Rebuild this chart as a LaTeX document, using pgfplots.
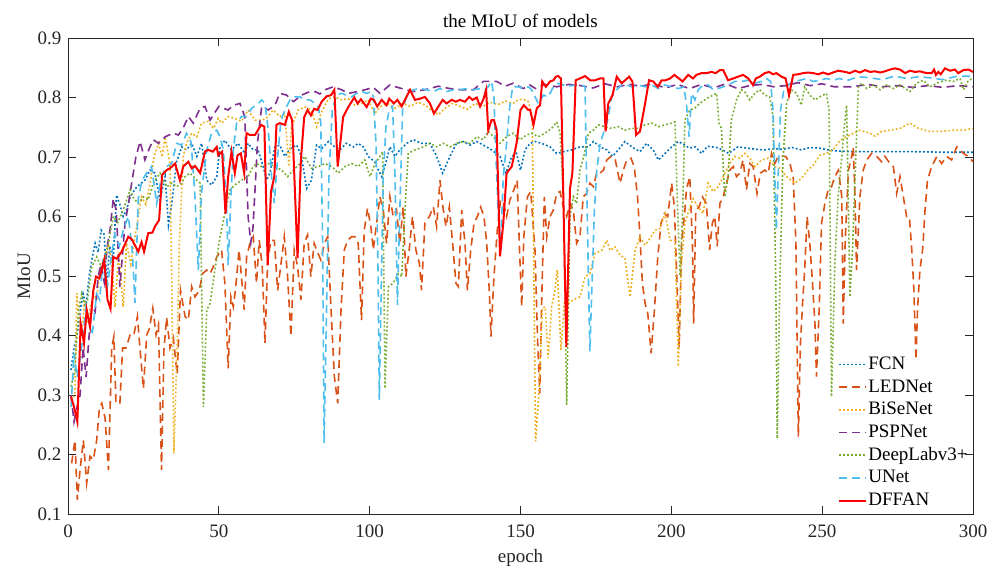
\documentclass[border=0pt]{standalone}
\usepackage{pgfplots}
\pgfplotsset{compat=1.18}
\usepackage{fontspec}
\setmainfont{Liberation Serif}
\definecolor{cFCN}{rgb}{0,0.447,0.741}
\definecolor{cLED}{rgb}{0.850,0.325,0.098}
\definecolor{cBiSe}{rgb}{0.929,0.694,0.125}
\definecolor{cPSP}{rgb}{0.494,0.184,0.556}
\definecolor{cDL}{rgb}{0.466,0.674,0.188}
\definecolor{cUNet}{rgb}{0.301,0.745,0.933}
\definecolor{axgray}{rgb}{0.15,0.15,0.15}
\begin{document}
\fontsize{19}{23}\selectfont
\begin{tikzpicture}
\path[use as bounding box] (-68pt,-56pt) rectangle (930pt,514pt);
\begin{axis}[
  at={(0pt,0pt)}, anchor=south west,
  scale only axis, width=905pt, height=476pt,
  xmin=0, xmax=300, ymin=0.1, ymax=0.9,
  xtick={0,50,100,150,200,250,300},
  ytick={0.1,0.2,0.3,0.4,0.5,0.6,0.7,0.8,0.9},
  yticklabel style={/pgf/number format/fixed,/pgf/number format/precision=1,/pgf/number format/fixed zerofill},
  xticklabel style={yshift=-4pt},
  /pgf/number format/assume math mode=true,
  tick align=inside, major tick length=8pt,
  axis line style={draw=axgray, line width=0.7pt},
  every tick/.style={axgray, line width=0.7pt},
  ticklabel style={text=axgray},
  title={the MIoU of models},
  title style={at={(axis description cs:0.5,1.023)}, anchor=center},
  xlabel={epoch},
  xlabel style={at={(axis description cs:0.5,-0.0925)}, anchor=center, text=axgray},
  ylabel={MIoU},
  ylabel style={at={(axis description cs:-0.0486,0.5)}, anchor=center, text=axgray},
  legend image code/.code={\draw[#1] (0pt,0pt) -- (27pt,0pt);},
  legend style={at={(rel axis cs:0.851,0.3355)}, anchor=north west, draw=none, fill=none,
    inner sep=0pt, row sep=2.67pt, cells={anchor=west},
    nodes={inner sep=1pt, text height=14pt, text depth=4pt}},
  legend cell align=left,
]
\addplot[cFCN, line width=1.6pt, dash pattern=on 1.8pt off 2.2pt] coordinates {
(1,0.342)(2,0.38)(3,0.40)(4,0.44)(5,0.47)(6,0.45)(7,0.50)(8,0.53)(9,0.555)(10,0.54)(11,0.577)(12,0.57)(12.8,0.488)(13.8,0.55)(15,0.53)(16.1,0.636)(17.2,0.62)(18.3,0.60)(19.4,0.611)(20.6,0.633)(22.8,0.65)(25.5,0.661)(27.2,0.678)(28.8,0.673)(30.5,0.628)(32.2,0.667)(33.3,0.586)(34.4,0.622)(36,0.692)(37.7,0.717)(39.3,0.712)(41,0.723)(42.7,0.701)(44.3,0.723)(46,0.661)(47.6,0.653)(49.3,0.667)(50.4,0.717)(52,0.728)(54.2,0.712)(56.4,0.723)(58.6,0.706)(59.7,0.723)(61.4,0.712)(63,0.712)(64.7,0.684)(65.8,0.661)(66.9,0.673)(68.6,0.717)(70.2,0.72)(71.9,0.701)(73.6,0.714)(75.8,0.72)(77.4,0.701)(79.1,0.647)(80.7,0.661)(82.4,0.72)(84.1,0.714)(86.3,0.726)(88.5,0.717)(90.1,0.712)(92.3,0.723)(94.6,0.717)(96.2,0.723)(97.9,0.717)(99.5,0.701)(101.7,0.692)(102.3,0.684)(104,0.667)(105.6,0.695)(106.7,0.717)(108.4,0.701)(110,0.712)(112.3,0.723)(114.5,0.729)(117.2,0.723)(120,0.723)(122.2,0.701)(124.2,0.673)(126.6,0.701)(128.8,0.723)(131,0.726)(133.2,0.72)(135.5,0.726)(137.7,0.72)(140.4,0.712)(143.2,0.701)(145.2,0.673)(147.1,0.701)(148.7,0.706)(150,0.678)(151.5,0.712)(153.2,0.723)(154.8,0.726)(157,0.723)(159.8,0.717)(162,0.706)(164.2,0.709)(167,0.712)(169.7,0.717)(172.5,0.717)(174.2,0.726)(176.4,0.717)(178.6,0.712)(180.5,0.701)(182.4,0.712)(184.6,0.726)(186.9,0.717)(189.6,0.709)(191.8,0.723)(194,0.712)(195.7,0.695)(197.9,0.706)(200.1,0.717)(202.3,0.726)(204.5,0.72)(206,0.715)(208,0.717)(210,0.706)(212,0.718)(215,0.716)(217,0.712)(219,0.706)(222,0.717)(225,0.715)(228,0.713)(231,0.712)(234,0.714)(237,0.713)(240,0.716)(243,0.712)(246,0.716)(249,0.715)(252,0.712)(255,0.71)(260,0.709)(270,0.709)(280,0.709)(290,0.708)(300,0.708)
};
\addlegendentry{FCN}
\addplot[cLED, line width=1.6pt, dash pattern=on 8pt off 5pt] coordinates {
(1.2,0.185)(2.3,0.224)(3.1,0.124)(4,0.174)(5.1,0.224)(6.2,0.152)(7.3,0.197)(8.4,0.191)(9.5,0.224)(10.4,0.278)(11.2,0.286)(12.3,0.261)(13.4,0.174)(14.5,0.379)(15.2,0.398)(15.9,0.286)(17.2,0.286)(18.1,0.379)(19.2,0.379)(20.6,0.401)(21.8,0.40)(23,0.432)(23.9,0.376)(25,0.311)(26.1,0.401)(27,0.412)(28.1,0.446)(29.2,0.401)(30,0.418)(31,0.174)(31.8,0.376)(32.7,0.43)(33.8,0.379)(34.9,0.396)(36.2,0.335)(37.3,0.476)(38.8,0.432)(39.9,0.426)(41,0.482)(42.1,0.465)(43.5,0.476)(44.6,0.504)(46,0.51)(47.1,0.504)(48.2,0.516)(49.3,0.532)(50.9,0.544)(52,0.488)(53.1,0.345)(54,0.465)(54.8,0.448)(55.5,0.476)(56.7,0.544)(57.5,0.499)(58.4,0.443)(59.2,0.532)(60.3,0.555)(61.4,0.566)(62.5,0.488)(63.4,0.56)(64.4,0.516)(65.3,0.387)(66.2,0.527)(67.3,0.56)(68.4,0.56)(69.5,0.476)(70.2,0.504)(71.7,0.566)(72.8,0.499)(73.9,0.399)(75,0.544)(76.1,0.516)(77.2,0.46)(78.3,0.555)(79.4,0.569)(80.5,0.499)(81.6,0.555)(82.4,0.544)(83.8,0.527)(85,0.555)(86.1,0.566)(87.2,0.443)(88.3,0.331)(89.4,0.286)(90.5,0.443)(91.6,0.544)(92.7,0.56)(94,0.566)(95.1,0.566)(96.2,0.555)(97.3,0.426)(98.2,0.577)(99.3,0.614)(100.4,0.583)(101.2,0.544)(102.3,0.589)(103.4,0.633)(104.5,0.611)(105.6,0.555)(106.7,0.633)(107.8,0.6)(108.9,0.611)(110,0.555)(111.1,0.616)(112,0.499)(113.1,0.544)(114.2,0.6)(115.3,0.544)(116.5,0.521)(117.2,0.476)(118.3,0.589)(119.8,0.6)(121.1,0.616)(122.2,0.583)(123.3,0.661)(124.4,0.611)(125.3,0.583)(126.4,0.616)(127.5,0.555)(128.6,0.488)(129.4,0.482)(130.5,0.611)(131.6,0.555)(132.4,0.476)(133.5,0.544)(134.6,0.589)(135.7,0.6)(136.8,0.616)(137.9,0.6)(138.8,0.555)(139.7,0.471)(140.2,0.398)(141.2,0.499)(142.3,0.577)(143.4,0.628)(144.3,0.622)(145.4,0.6)(146.5,0.628)(147.8,0.645)(148.9,0.661)(149.6,0.555)(150.4,0.448)(151.1,0.566)(152.3,0.633)(153.4,0.642)(154.8,0.544)(155.7,0.387)(156.4,0.303)(157,0.454)(157.9,0.633)(158.7,0.566)(159.8,0.6)(160.9,0.611)(162,0.639)(163.1,0.642)(164.2,0.616)(165.3,0.6)(166.4,0.622)(167.5,0.611)(168.6,0.555)(169.7,0.566)(170.8,0.633)(171.9,0.639)(173,0.656)(174.2,0.65)(175.3,0.675)(176.4,0.673)(177.5,0.678)(178.6,0.695)(180,0.701)(181.3,0.698)(183,0.656)(184.1,0.678)(185.2,0.695)(186.6,0.698)(187.7,0.684)(188.8,0.633)(189.6,0.566)(190.4,0.488)(191.3,0.454)(192.2,0.437)(193.3,0.37)(194.4,0.443)(195.5,0.532)(196.6,0.589)(197.7,0.605)(198.8,0.6)(200.1,0.656)(201,0.616)(201.8,0.499)(202.6,0.38)(203.4,0.555)(204.5,0.611)(205,0.645)(206.1,0.667)(207,0.555)(207.4,0.42)(208.1,0.611)(209.2,0.616)(210.3,0.633)(211.6,0.622)(212.7,0.544)(213.6,0.589)(214.4,0.6)(215.2,0.55)(216.1,0.622)(217.2,0.633)(218.3,0.656)(219.4,0.678)(220.5,0.684)(221.6,0.667)(222.7,0.673)(223.8,0.695)(224.9,0.645)(226,0.689)(227.1,0.684)(228.4,0.639)(229.5,0.673)(231,0.678)(232.1,0.673)(233.2,0.706)(234.3,0.689)(235.4,0.701)(236.5,0.701)(237.9,0.701)(239.3,0.689)(240.4,0.667)(241.3,0.555)(241.7,0.387)(242.1,0.23)(242.8,0.387)(243.5,0.454)(244.2,0.51)(245,0.6)(245.9,0.555)(246.8,0.488)(247.6,0.42)(248.1,0.331)(249,0.443)(249.8,0.589)(250.9,0.622)(252,0.645)(253.1,0.65)(254.2,0.667)(255.4,0.678)(256.5,0.633)(257,0.42)(257.6,0.555)(258.7,0.678)(259.8,0.701)(260.3,0.717)(260.9,0.633)(261.4,0.51)(262.5,0.633)(263.6,0.678)(264.8,0.695)(266.4,0.706)(268.1,0.701)(269.7,0.692)(270.8,0.701)(272.5,0.689)(273.6,0.684)(274.7,0.639)(275.8,0.667)(276.9,0.633)(278,0.6)(278.9,0.6)(279.7,0.544)(280.4,0.476)(281.1,0.359)(281.6,0.443)(282.4,0.51)(283.3,0.544)(284.1,0.611)(284.9,0.661)(286.3,0.684)(288,0.701)(289.6,0.689)(291.3,0.701)(292.9,0.695)(294.6,0.717)(295.7,0.712)(296.8,0.706)(298.5,0.701)(300,0.692)
};
\addlegendentry{LEDNet}
\addplot[cBiSe, line width=1.6pt, dash pattern=on 1.8pt off 2.2pt] coordinates {
(1,0.283)(2.3,0.305)(2.9,0.471)(3.4,0.443)(4.5,0.40)(5.5,0.46)(6.5,0.42)(7.5,0.45)(8.5,0.47)(9.5,0.46)(10.5,0.51)(12,0.53)(13.4,0.555)(14.5,0.52)(15.6,0.448)(16.8,0.54)(18.3,0.448)(19.4,0.555)(20.8,0.52)(22.2,0.566)(23.3,0.60)(24.4,0.633)(25.8,0.62)(27.2,0.656)(28.5,0.70)(30,0.723)(31.2,0.70)(32.2,0.734)(33.8,0.689)(34.5,0.45)(35.1,0.202)(36.2,0.387)(36.9,0.555)(38.2,0.701)(39.3,0.723)(41,0.74)(42.7,0.734)(44.3,0.757)(46.5,0.76)(48.2,0.748)(49.8,0.765)(50.9,0.757)(53.1,0.768)(55.3,0.765)(57.5,0.76)(59.7,0.779)(62,0.762)(64.2,0.762)(65.8,0.765)(68,0.779)(70.2,0.768)(71.9,0.773)(73.2,0.684)(74.1,0.751)(76.3,0.779)(78.5,0.784)(80.7,0.779)(82.4,0.751)(84.1,0.776)(86.3,0.798)(88.5,0.801)(90.7,0.796)(92.9,0.798)(95.1,0.787)(97.3,0.79)(99.5,0.796)(101.7,0.773)(103.5,0.785)(106,0.79)(108.5,0.782)(111,0.79)(113.5,0.785)(116,0.792)(118.5,0.787)(120.5,0.778)(122.8,0.771)(125,0.782)(127.5,0.79)(130,0.785)(132.5,0.78)(135,0.79)(137.5,0.785)(140,0.792)(142.5,0.788)(145,0.794)(147.5,0.79)(149.5,0.797)(151.5,0.796)(152.6,0.793)(153.9,0.768)(155,0.222)(156.1,0.303)(157.2,0.446)(158.2,0.448)(159.2,0.362)(160.3,0.448)(161.4,0.476)(162.2,0.51)(163.4,0.376)(164.5,0.454)(165.9,0.454)(167.5,0.46)(169.7,0.465)(171.4,0.499)(173,0.504)(174.7,0.538)(176.9,0.543)(178.6,0.56)(179.7,0.543)(181.3,0.549)(183,0.535)(184.6,0.53)(186.3,0.465)(188,0.543)(189.6,0.566)(191.3,0.552)(192.9,0.563)(194.6,0.577)(196.3,0.58)(197.9,0.605)(199.6,0.56)(201.2,0.56)(202.3,0.348)(203.4,0.524)(204.5,0.589)(205.5,0.605)(207.2,0.63)(208.9,0.616)(210.5,0.605)(212.2,0.656)(213.9,0.642)(215.5,0.65)(217.2,0.667)(219.4,0.689)(221,0.701)(222.7,0.698)(224.3,0.706)(226,0.698)(227.7,0.684)(229.9,0.695)(232.1,0.698)(234.3,0.684)(236,0.681)(238.2,0.667)(240.9,0.656)(243.1,0.664)(245.3,0.678)(247,0.686)(249.2,0.703)(251.4,0.706)(253.6,0.712)(255.9,0.728)(259.2,0.737)(262.5,0.745)(265.9,0.74)(267.5,0.735)(269.7,0.743)(272.5,0.745)(275.8,0.748)(279.1,0.757)(281.9,0.748)(285.7,0.743)(289.1,0.743)(293.5,0.745)(296.8,0.745)(300,0.748)
};
\addlegendentry{BiSeNet}
\addplot[cPSP, line width=1.6pt, dash pattern=on 8pt off 5pt] coordinates {
(1,0.30)(2,0.255)(3,0.28)(4,0.30)(5,0.38)(6,0.33)(7,0.40)(8,0.45)(9,0.44)(10,0.50)(11,0.52)(12,0.49)(13,0.55)(14,0.58)(15,0.63)(16,0.61)(17.2,0.482)(18.9,0.589)(20,0.62)(21.1,0.656)(22.5,0.70)(23.9,0.726)(25.5,0.695)(27,0.715)(28.3,0.729)(30,0.723)(32.2,0.734)(34.9,0.74)(36.6,0.737)(38.3,0.75)(39.9,0.768)(41.5,0.757)(43.8,0.782)(45.4,0.785)(47.1,0.762)(48.7,0.775)(50,0.785)(51.5,0.782)(53.1,0.779)(54.8,0.787)(57,0.79)(58.6,0.768)(59.7,0.6)(60.6,0.556)(61.3,0.58)(62,0.645)(62.8,0.723)(64.2,0.785)(66.4,0.779)(68.6,0.787)(70.2,0.807)(72.5,0.804)(74.7,0.793)(77.4,0.804)(80.2,0.81)(81.9,0.81)(83.5,0.806)(85.2,0.813)(87.9,0.818)(90.7,0.813)(92.9,0.807)(96.2,0.81)(98.4,0.813)(101.2,0.817)(103.4,0.807)(106.7,0.821)(110.6,0.815)(114.5,0.81)(118.3,0.813)(122.8,0.819)(126.6,0.815)(130.5,0.813)(134.4,0.813)(137.7,0.827)(142.1,0.827)(144.9,0.819)(147.6,0.824)(150.9,0.815)(153.1,0.821)(155,0.815)(158,0.822)(162,0.818)(166,0.822)(170,0.82)(174,0.816)(178,0.823)(182,0.818)(186,0.822)(190,0.819)(194,0.823)(198,0.816)(202,0.822)(206,0.815)(210,0.822)(214,0.816)(218,0.823)(222,0.815)(226,0.82)(230,0.822)(234,0.818)(238,0.82)(242,0.825)(246,0.82)(250,0.823)(254,0.818)(260,0.818)(265,0.822)(270,0.818)(275,0.82)(280,0.817)(285,0.82)(290,0.817)(295,0.82)(300,0.818)
};
\addlegendentry{PSPNet}
\addplot[cDL, line width=1.6pt, dash pattern=on 1.8pt off 2.2pt] coordinates {
(1,0.314)(2.3,0.342)(3.4,0.44)(4.5,0.47)(5.6,0.45)(6.5,0.46)(7.8,0.514)(9.5,0.532)(11.5,0.51)(13.4,0.555)(15,0.60)(16.5,0.59)(18.3,0.611)(20.6,0.645)(21.8,0.63)(23.3,0.622)(25,0.633)(26.6,0.628)(28.3,0.656)(30.5,0.673)(32.7,0.65)(34.4,0.656)(36,0.65)(37.7,0.656)(38.8,0.667)(40.4,0.673)(42.7,0.661)(43.8,0.656)(44.9,0.28)(46,0.443)(47.1,0.454)(48.7,0.51)(50.4,0.566)(52,0.605)(53.7,0.645)(55.3,0.653)(57.5,0.661)(59.7,0.667)(61.4,0.684)(62.5,0.689)(64.2,0.684)(66.4,0.689)(68.6,0.684)(70.8,0.678)(72.8,0.667)(74.7,0.678)(76.9,0.689)(78.5,0.701)(80.7,0.681)(83,0.684)(85.2,0.689)(87.4,0.684)(89.6,0.673)(91.8,0.684)(94,0.689)(96.2,0.684)(98.4,0.695)(100.1,0.667)(101.8,0.689)(103.4,0.701)(104.3,0.709)(105.1,0.311)(106.2,0.482)(107.8,0.488)(109.5,0.504)(110.6,0.499)(111.7,0.611)(112.8,0.706)(115,0.712)(117.8,0.717)(120,0.723)(122.2,0.717)(124.4,0.723)(126.6,0.717)(128.8,0.723)(131,0.726)(133.2,0.723)(135.5,0.734)(137.7,0.729)(139.3,0.743)(141,0.734)(143.2,0.723)(145.4,0.734)(147.6,0.74)(149.8,0.729)(152,0.737)(153.7,0.74)(155.9,0.734)(158.1,0.74)(160.3,0.748)(162,0.759)(163.1,0.74)(164.2,0.639)(165.3,0.283)(166.4,0.6)(167.5,0.633)(168.6,0.622)(169.7,0.678)(171.2,0.706)(172.5,0.74)(174.2,0.745)(175.8,0.754)(178,0.751)(180.2,0.748)(182.4,0.751)(184.6,0.745)(186.9,0.748)(189.1,0.748)(191.3,0.754)(193.5,0.757)(195.7,0.751)(197.9,0.754)(200.1,0.757)(201.2,0.759)(202.1,0.611)(202.9,0.5)(203.8,0.62)(204.5,0.762)(206.1,0.779)(207.8,0.782)(209.4,0.79)(211.6,0.798)(213.8,0.804)(215,0.807)(215.8,0.757)(216.6,0.748)(217.7,0.633)(218.8,0.667)(219.9,0.762)(221.6,0.796)(223.2,0.813)(224.3,0.81)(226,0.796)(227.7,0.807)(229.3,0.813)(231,0.804)(232.6,0.801)(233.7,0.768)(234.6,0.499)(235.1,0.227)(236,0.499)(237,0.695)(238.2,0.79)(239.8,0.813)(241.5,0.807)(243.1,0.787)(244.2,0.818)(245.9,0.804)(247.6,0.796)(249.2,0.801)(251.4,0.807)(252.3,0.779)(253.1,0.297)(254.2,0.521)(255.3,0.633)(256.5,0.70)(257.3,0.75)(258.1,0.787)(259.2,0.465)(260.1,0.55)(261.2,0.706)(262,0.818)(263.1,0.824)(264.8,0.815)(267,0.821)(269.2,0.813)(271.4,0.821)(273.6,0.815)(275.8,0.821)(279.1,0.81)(281.3,0.824)(283.5,0.829)(285.7,0.818)(288,0.824)(290.7,0.829)(293.5,0.827)(295.7,0.832)(296.8,0.813)(298.5,0.829)(300,0.832)
};
\addlegendentry{DeepLabv3+}
\addplot[cUNet, line width=1.6pt, dash pattern=on 8pt off 5pt] coordinates {
(1,0.28)(2,0.37)(3,0.33)(4,0.36)(5,0.40)(6,0.45)(7,0.42)(8,0.40)(9.5,0.47)(10.5,0.46)(11.5,0.52)(13,0.48)(14,0.52)(15.5,0.57)(17,0.55)(18.5,0.58)(20,0.60)(21.2,0.55)(22.2,0.455)(23.3,0.63)(24.5,0.66)(26,0.673)(27.7,0.684)(29.4,0.622)(31,0.667)(32.7,0.684)(34.4,0.689)(36,0.723)(37.7,0.72)(39.3,0.74)(40.8,0.725)(42.1,0.633)(43.2,0.51)(44.3,0.642)(46,0.712)(47.6,0.74)(49.3,0.745)(50.4,0.734)(51.5,0.712)(52.6,0.611)(53.1,0.518)(54,0.633)(54.8,0.712)(55.9,0.757)(57.5,0.768)(59.2,0.768)(60.9,0.782)(62.5,0.787)(64.2,0.796)(65.3,0.79)(66.4,0.745)(67.5,0.667)(68.4,0.622)(69.5,0.701)(70.6,0.762)(71.9,0.779)(73.6,0.796)(75.2,0.801)(76.9,0.801)(78.5,0.796)(80.2,0.796)(81.9,0.79)(83,0.785)(83.8,0.757)(84.4,0.555)(84.9,0.219)(85.7,0.443)(86.5,0.667)(87.6,0.779)(89,0.804)(90.7,0.807)(92.3,0.804)(94,0.801)(95.7,0.807)(97.3,0.81)(99,0.807)(100.6,0.81)(101.2,0.801)(102.1,0.723)(102.8,0.499)(103.2,0.292)(103.9,0.499)(104.5,0.667)(105.4,0.751)(106.5,0.779)(107.6,0.785)(108.4,0.667)(109.2,0.451)(110,0.611)(110.9,0.779)(112.3,0.804)(114.5,0.813)(116.7,0.815)(118.9,0.813)(121.1,0.81)(123.3,0.815)(125.5,0.81)(127.7,0.813)(129.9,0.813)(132.1,0.815)(134.4,0.813)(136.6,0.815)(138.2,0.813)(139.3,0.818)(140.4,0.827)(141.2,0.801)(141.9,0.695)(142.6,0.611)(143.4,0.55)(144.3,0.667)(145.4,0.723)(146.3,0.779)(147.4,0.818)(149.3,0.818)(150.9,0.815)(152.6,0.818)(153.7,0.813)(155.9,0.79)(157.6,0.804)(159.2,0.801)(160.9,0.818)(162.5,0.824)(164.2,0.821)(165.9,0.819)(168.1,0.821)(170.3,0.821)(171.4,0.818)(171.9,0.667)(172.5,0.499)(173,0.373)(173.6,0.471)(174.5,0.611)(175.3,0.678)(176.4,0.723)(177.5,0.74)(178.9,0.762)(180.2,0.801)(181.9,0.813)(183.5,0.821)(185.2,0.821)(186.9,0.818)(189.1,0.821)(191.3,0.818)(193.5,0.821)(195.7,0.815)(197.9,0.821)(200.1,0.818)(202.3,0.815)(204.1,0.818)(205,0.79)(205.9,0.734)(206.7,0.807)(207.8,0.796)(208.9,0.813)(210.5,0.821)(212.2,0.821)(213.9,0.813)(215.5,0.815)(217.2,0.818)(218.8,0.821)(221,0.827)(223.2,0.827)(225.5,0.829)(227.7,0.824)(229.9,0.827)(231.5,0.832)(232.9,0.827)(233.7,0.779)(234.3,0.667)(234.8,0.577)(235.4,0.667)(236.2,0.779)(237.3,0.813)(238.7,0.821)(240.4,0.827)(242.6,0.829)(244.8,0.832)(247,0.827)(249.2,0.829)(251.4,0.832)(253.6,0.829)(255.8,0.832)(258,0.828)(262,0.835)(266,0.833)(270,0.83)(274,0.836)(278,0.832)(282,0.835)(286,0.833)(290,0.83)(294,0.835)(298,0.836)(300,0.835)
};
\addlegendentry{UNet}
\addplot[red, line width=2pt] coordinates {
(1,0.297)(2,0.28)(3.1,0.255)(4.2,0.42)(5.3,0.387)(6.2,0.443)(7.3,0.415)(8.4,0.476)(9.3,0.499)(10.4,0.496)(12,0.527)(13.1,0.46)(14.1,0.445)(15,0.532)(16.1,0.529)(17.8,0.541)(20,0.566)(21.1,0.562)(23.3,0.541)(24.4,0.557)(25.2,0.541)(26.6,0.572)(28,0.573)(28.8,0.583)(30.2,0.594)(31.2,0.67)(32.7,0.678)(33.8,0.681)(35.5,0.689)(37.1,0.661)(38.2,0.684)(39.9,0.692)(41,0.681)(42.1,0.685)(43.8,0.673)(45.4,0.709)(46.5,0.712)(48,0.709)(49.3,0.717)(49.8,0.703)(51.1,0.709)(52.2,0.605)(53.1,0.667)(54.2,0.709)(55.3,0.673)(56.2,0.703)(57.3,0.706)(58.4,0.673)(59.2,0.74)(60.3,0.737)(62,0.737)(64,0.754)(65.1,0.751)(66.2,0.518)(67.3,0.642)(68.4,0.667)(69.1,0.754)(70.2,0.757)(71.9,0.754)(73.2,0.776)(74.3,0.762)(76.1,0.53)(77.2,0.695)(78.3,0.767)(79.4,0.779)(80.5,0.77)(81.6,0.781)(82.7,0.779)(84.1,0.793)(85.7,0.802)(87.2,0.804)(88.3,0.813)(89.4,0.684)(91.2,0.767)(92.9,0.784)(94.9,0.8)(96,0.79)(97.1,0.797)(99,0.784)(100.4,0.798)(101.4,0.796)(102.5,0.785)(104,0.796)(105.6,0.787)(106.5,0.798)(108,0.79)(109.2,0.796)(110.6,0.785)(111.7,0.796)(113.4,0.813)(115,0.796)(116.7,0.798)(118.3,0.801)(120,0.79)(121.3,0.773)(122.8,0.785)(124.2,0.796)(125.5,0.79)(127.2,0.796)(128.6,0.793)(129.9,0.796)(131.6,0.793)(133,0.801)(134.1,0.796)(135.5,0.8)(136.6,0.785)(137.7,0.797)(138.6,0.813)(139.3,0.745)(140.4,0.762)(141.2,0.762)(142.1,0.745)(143.2,0.533)(144.3,0.589)(145.4,0.673)(147.1,0.684)(148.7,0.723)(150,0.779)(151.1,0.787)(152.6,0.779)(153.2,0.779)(154.3,0.754)(155.4,0.782)(156.5,0.787)(157.2,0.827)(158.4,0.818)(159.8,0.827)(160.9,0.829)(161.7,0.835)(162.5,0.836)(163.4,0.832)(165.2,0.381)(166.4,0.647)(167.2,0.673)(168.3,0.829)(169.7,0.832)(171.4,0.836)(173.1,0.829)(174.7,0.829)(176.4,0.832)(177.5,0.832)(178.2,0.743)(179.1,0.79)(180.5,0.804)(181.9,0.835)(183.5,0.824)(184.7,0.829)(186,0.835)(187.1,0.827)(188.3,0.737)(189.6,0.743)(191.3,0.79)(192.6,0.829)(194,0.827)(195.5,0.818)(196.8,0.829)(198.1,0.829)(199.6,0.832)(201,0.838)(202.5,0.832)(203.7,0.827)(205.6,0.838)(207.2,0.832)(208.3,0.838)(210,0.841)(211.6,0.841)(213.3,0.843)(214.7,0.841)(216.1,0.846)(217.2,0.846)(218.8,0.829)(220.5,0.832)(222.1,0.835)(223.8,0.838)(225.5,0.832)(227.1,0.821)(228,0.832)(229.3,0.835)(231,0.841)(232.4,0.843)(233.7,0.839)(234.8,0.841)(236.5,0.835)(237.9,0.832)(239,0.804)(240.4,0.838)(242,0.839)(243.7,0.841)(245.3,0.842)(247,0.841)(248.7,0.839)(250.3,0.842)(252,0.839)(253.6,0.842)(255.3,0.845)(257.6,0.843)(259.2,0.841)(260.9,0.845)(262.5,0.842)(264.2,0.846)(265.9,0.843)(267.5,0.844)(269.2,0.842)(270.8,0.844)(272.5,0.847)(274.1,0.849)(275.8,0.847)(277.5,0.841)(279.1,0.845)(280.8,0.843)(282.4,0.844)(283.8,0.842)(284.9,0.841)(286.3,0.841)(287.1,0.847)(287.7,0.838)(288.5,0.843)(289.3,0.839)(290.7,0.849)(292.4,0.845)(294,0.847)(295.1,0.841)(296.8,0.846)(298.5,0.847)(300,0.843)
};
\addlegendentry{DFFAN}
\end{axis}
\end{tikzpicture}
\end{document}
